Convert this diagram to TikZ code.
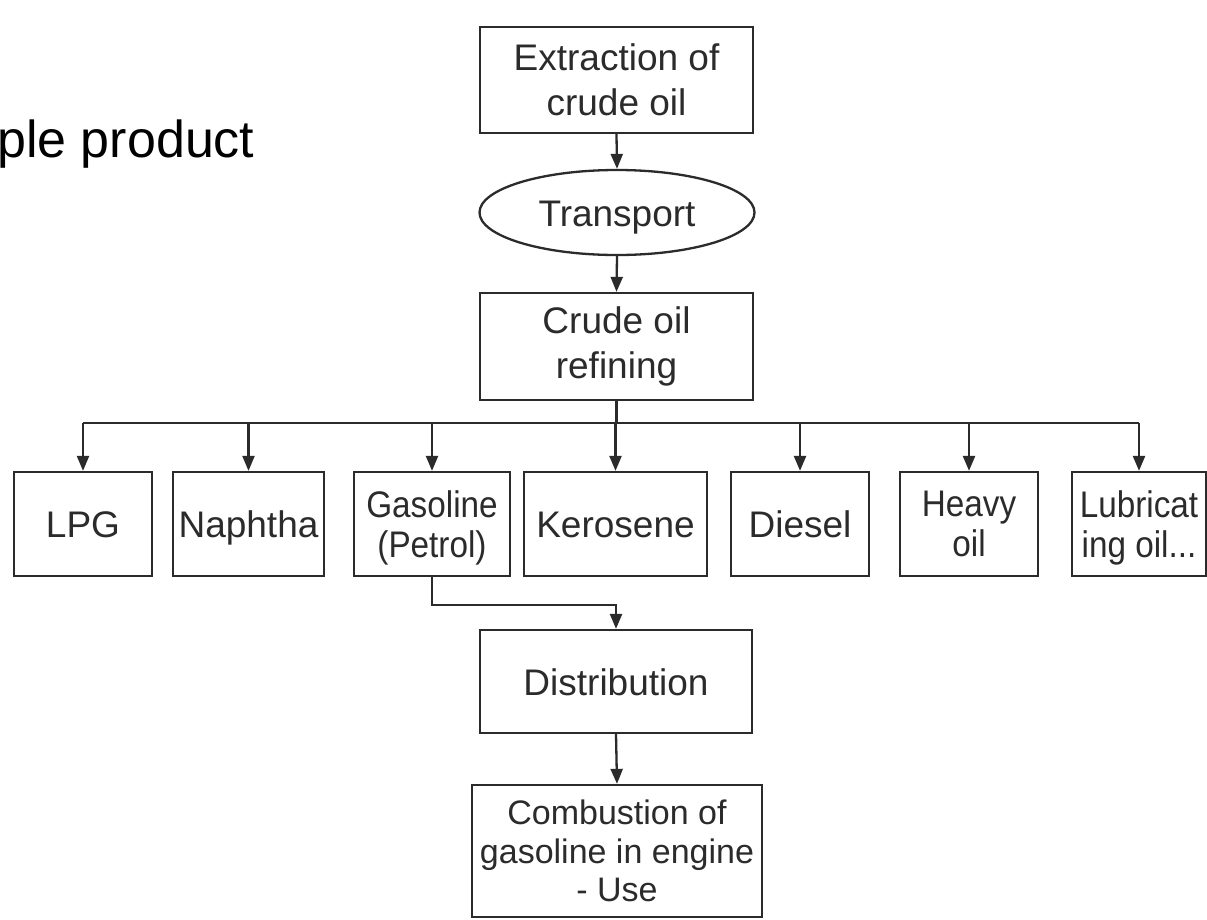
\documentclass[tikz,border=0pt]{standalone}
\usepackage{fontspec}
\setmainfont{Liberation Sans}
\newfontfamily\narrowsans{Liberation Sans}[FakeStretch=0.9]
\usetikzlibrary{arrows.meta,shapes.geometric,calc}
\definecolor{ink}{HTML}{2B2B2B}
\begin{document}
\begin{tikzpicture}[x=1pt,y=-1pt,
  every node/.style={inner sep=0pt, align=center, text=ink},
  stepbox/.style={draw=ink, line width=2.3pt, rectangle, font=\fontsize{37}{45}\selectfont},
  prodbox/.style={stepbox, minimum height=104pt, font=\fontsize{37}{40}\selectfont},
  twoline/.style={font=\narrowsans\fontsize{37}{40}\selectfont, text depth=0pt},
  oneline/.style={text height=27pt, text depth=0pt},
  oval/.style={draw=ink, line width=2.3pt, ellipse, font=\fontsize{37}{45}\selectfont},
  link/.style={draw=ink, line width=2.3pt},
  arr/.style={link, -{Triangle[length=15pt,width=12pt]}}]
\useasboundingbox[fill=white] (0,0) rectangle (1207,919);

% heading fragment
\node[anchor=base west, text=black, font=\fontsize{52}{60}\selectfont] (title) at (-3,157) {ple product};

% main chain
\node[stepbox, minimum width=273pt, minimum height=106pt] (extract) at (616.5,80) {Extraction of\\crude oil};
\node[oval, oneline, minimum width=275pt, minimum height=85pt] (transport) at (617,212.5) {Transport};
\node[stepbox, minimum width=273pt, minimum height=107pt] (refine) at (616.5,346.5) {Crude oil\\refining};

% refinery products
\node[prodbox, oneline, minimum width=138pt] (lpg) at (83,524) {LPG};
\node[prodbox, oneline, minimum width=151pt] (naphtha) at (248.5,524) {Naphtha};
\node[prodbox, twoline, minimum width=156pt] (gasoline) at (432,524) {Gasoline\\(Petrol)};
\node[prodbox, oneline, minimum width=183pt] (kerosene) at (615.5,524) {Kerosene};
\node[prodbox, oneline, minimum width=138pt] (diesel) at (800,524) {Diesel};
\node[prodbox, twoline, minimum width=138pt] (heavy) at (969,524) {Heavy\\oil};
\node[prodbox, twoline, minimum width=134pt] (lube) at (1139,524) {Lubricat\\ing oil...};

% downstream of gasoline
\node[stepbox, oneline, minimum width=272pt, minimum height=103pt] (distrib) at (616,681.5) {Distribution};
\node[stepbox, minimum width=290pt, minimum height=132pt, font=\fontsize{34}{38.5}\selectfont] (combust) at (617,851) {Combustion of\\gasoline in engine\\- Use};

% connectors
\draw[arr] (extract.south) -- (transport.north);
\draw[arr] (transport.south) -- (refine.north);

\coordinate (bus) at (616.5,423);
\draw[link] (refine.south) -- (bus);
\draw[link] (lpg.north |- bus) -- (lube.north |- bus);
\foreach \p in {lpg,naphtha,gasoline,kerosene,diesel,heavy,lube}
  \draw[arr] (\p.north |- bus) -- (\p.north);

\coordinate (drop) at (0,605);
\draw[arr] (gasoline.south) -- (gasoline.south |- drop) -| (distrib.north);
\draw[arr] (distrib.south) -- (combust.north);
\end{tikzpicture}
\end{document}
